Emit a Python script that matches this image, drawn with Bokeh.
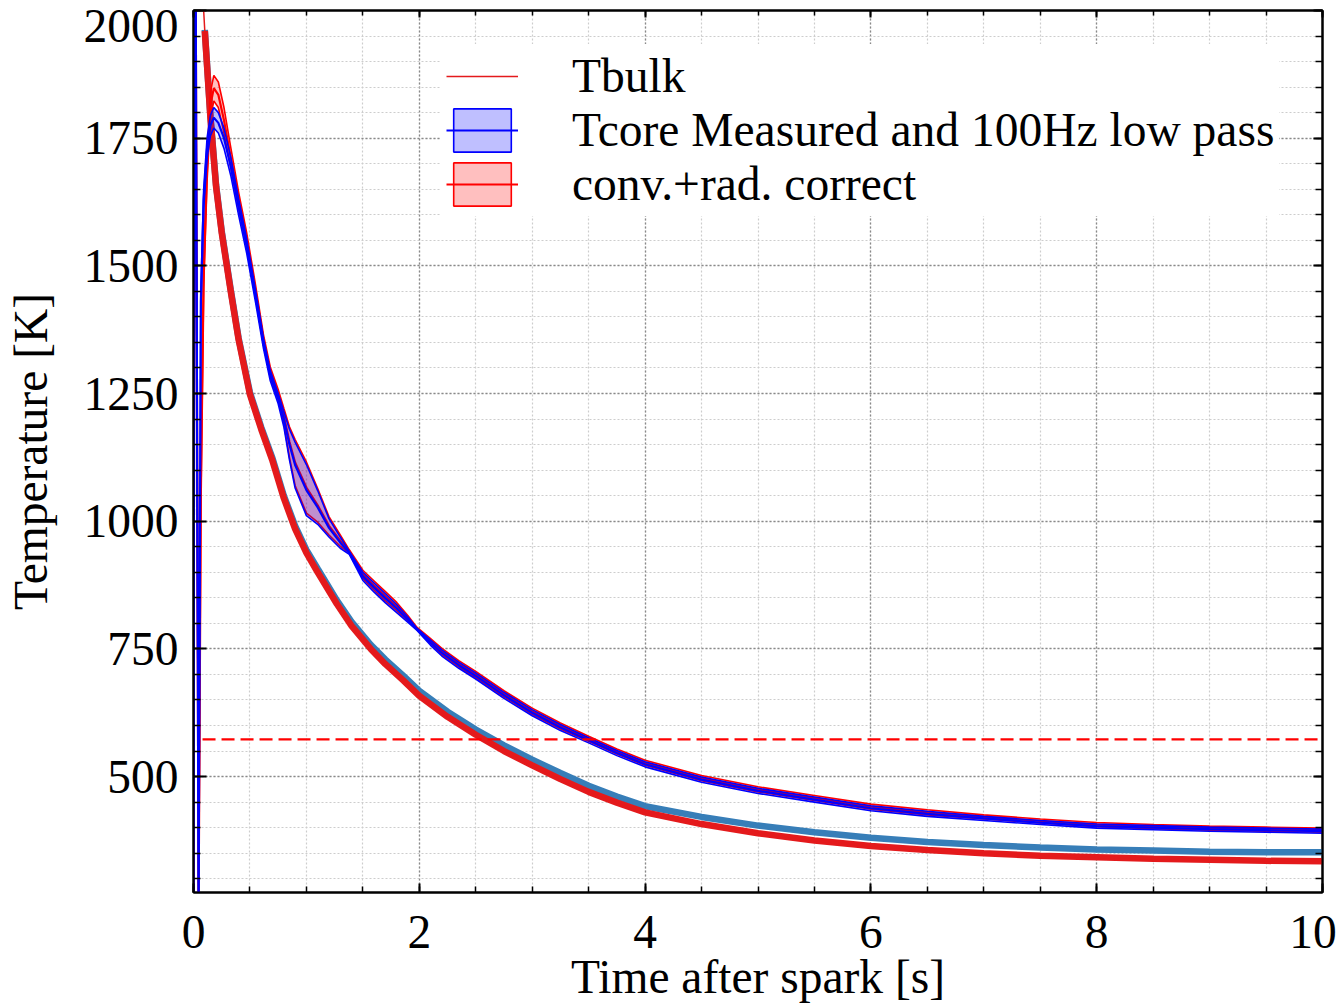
from bokeh.plotting import figure
from bokeh.models import (Range1d, LinearAxis, SingleIntervalTicker, FixedTicker, Grid,
                          Legend, LegendItem, CustomJSTickFormatter)
from bokeh.embed import file_html
from bokeh.resources import INLINE

# ---------------- data ----------------
X_MIN, X_MAX = 0.0, 10.0
Y_MIN, Y_MAX = 273.0, 2000.0
x_tick_values = [0, 2, 4, 6, 8, 10]
y_tick_values = [500, 750, 1000, 1250, 1500, 1750, 2000]

# Tcore (measured, 100 Hz low pass): centre and half width of the band
core_t = [0.0, 0.012, 0.045, 0.065, 0.09, 0.12, 0.15, 0.18, 0.22, 0.27, 0.33, 0.4, 0.47,
          0.55, 0.62, 0.68, 0.75, 0.8, 0.85, 0.9, 1.0, 1.1, 1.2, 1.3, 1.38, 1.5, 1.6,
          1.7, 1.8, 1.9, 1.98, 2.1, 2.2, 2.35, 2.5, 2.75, 3.0, 3.25, 3.5, 3.75, 4.0,
          4.5, 5.0, 5.5, 6.0, 6.5, 7.0, 7.5, 8.0, 8.5, 9.0, 9.5, 10.0]
tcore_mid = [260, 2600, 240, 1430, 1630, 1730, 1775, 1790, 1780, 1750, 1695, 1615, 1540,
             1440, 1348, 1285, 1240, 1200, 1150, 1110, 1061, 1027, 987, 958, 938, 892, 870,
             849, 829, 807, 788, 762, 742, 718, 697, 659, 625, 596, 571, 546, 524,
             494, 472, 455, 438, 427, 418, 410, 403, 400, 397, 395, 393]
tcore_hw = [20, 20, 20, 20, 20, 20, 20, 20, 20, 20, 18, 16, 14,
            12, 10, 10, 10, 15, 30, 45, 50, 33, 18, 11, 3, 8, 9,
            9, 8, 5, 2, 5, 6, 6, 6, 6, 6, 6, 5, 5, 5,
            5, 5, 5, 5, 5, 4, 4, 4, 4, 4, 4, 4]
# conv.+rad. corrected core temperature
conv_mid = [260, 2600, 240, 1050, 1480, 1690, 1815, 1848, 1835, 1785, 1712, 1628, 1552,
            1450, 1355, 1292, 1248, 1206, 1155, 1115, 1066, 1031, 991, 962, 941, 896, 874,
            853, 833, 810, 790, 765, 745, 721, 700, 662, 628, 599, 574, 549, 527,
            497, 475, 458, 441, 430, 421, 413, 406, 402, 399, 397, 395]
conv_hw = [25, 25, 25, 25, 25, 25, 25, 25, 25, 25, 20, 16, 14,
           12, 10, 10, 10, 15, 30, 45, 50, 33, 18, 11, 3, 8, 9,
           9, 8, 5, 2, 5, 6, 6, 6, 6, 6, 6, 5, 5, 5,
           5, 5, 5, 5, 5, 4, 4, 4, 4, 4, 4, 4]

# bulk temperature (red) and the second measured trace (steel blue)
tbulk_t = [0.0, 0.004, 0.09, 0.1, 0.15, 0.2, 0.25, 0.33, 0.4, 0.5, 0.6, 0.7, 0.8, 0.9,
           1.0, 1.1, 1.27, 1.4, 1.57, 1.7, 1.86, 2.0, 2.25, 2.5, 2.75, 3.0, 3.25, 3.5,
           3.75, 4.0, 4.5, 5.0, 5.5, 6.0, 6.5, 7.0, 7.5, 8.0, 8.5, 9.0, 9.5, 10.0]
tbulk = [280, 3000, 2000, 1960, 1790, 1655, 1565, 1450, 1355, 1248, 1180, 1118, 1045, 985,
         938, 900, 838, 795, 750, 720, 688, 658, 617, 582, 550, 522, 495, 470,
         449, 430, 407, 389, 375, 364, 356, 350, 345, 342, 339, 337, 335, 334]
steel_t = tbulk_t[3:]
steel = [1962, 1793, 1658, 1568, 1453, 1358, 1252, 1184, 1123, 1050, 991,
         944, 907, 845, 803, 758, 729, 697, 668, 627, 592, 561, 533, 507, 482,
         461, 442, 421, 404, 391, 380, 372, 366, 361, 357, 355, 353, 352, 352]

threshold_t = [0.08, 10.0]
threshold_T = 573

legend_labels = ["Tbulk", "Tcore Measured and 100Hz low pass", "conv.+rad. correct"]

FONT = "Liberation Serif"
FS = "47.5px"
W, H = 1337, 1005
B_LEFT, B_RIGHT, B_TOP, B_BOTTOM = 193, 15, 10, 113
FRAME_W = W - B_LEFT - B_RIGHT
FRAME_H = H - B_TOP - B_BOTTOM

# the labels of the two corner ticks sit nudged inwards, as in the reference
x_label_pos = [v - 9.5 * (X_MAX - X_MIN) / FRAME_W if v == X_MAX else v for v in x_tick_values]
y_label_pos = [v - 15.0 * (Y_MAX - Y_MIN) / FRAME_H if v == Y_MAX else v for v in y_tick_values]

# ---------------- figure ----------------
p = figure(width=W, height=H, output_backend="svg", toolbar_location=None,
           x_range=Range1d(X_MIN, X_MAX), y_range=Range1d(Y_MIN, Y_MAX),
           x_axis_type=None, y_axis_type=None,
           min_border_left=B_LEFT, min_border_right=B_RIGHT, min_border_top=B_TOP,
           min_border_bottom=B_BOTTOM)
p.background_fill_color = "white"
p.border_fill_color = "white"
p.outline_line_color = "black"
p.outline_line_width = 2

xticker = SingleIntervalTicker(interval=2, num_minor_ticks=4)
yticker = SingleIntervalTicker(interval=250, num_minor_ticks=5)

for dim, tk in ((0, xticker), (1, yticker)):
    g = Grid(dimension=dim, ticker=tk)
    g.grid_line_color = "#8a8a8a"
    g.grid_line_dash = "2 2"
    g.grid_line_width = 1.3
    g.minor_grid_line_color = "#cdcdcd"
    g.minor_grid_line_dash = "2 2"
    g.minor_grid_line_width = 1.2
    g.level = "underlay"
    p.add_layout(g)

# tick-only axes on all four sides
for side, tk, tin, mtin in (("below", xticker, 9, 6), ("left", yticker, 13, 7),
                            ("above", xticker, 7, 5), ("right", yticker, 9, 7)):
    ax = LinearAxis(ticker=tk)
    ax.major_label_text_font_size = "1px"
    ax.major_label_text_color = None
    ax.major_label_standoff = 0
    ax.axis_line_color = "black"
    ax.axis_line_width = 2
    ax.major_tick_in, ax.major_tick_out = tin, 0
    ax.minor_tick_in, ax.minor_tick_out = mtin, 0
    ax.major_tick_line_color = "black"
    ax.minor_tick_line_color = "black"
    ax.major_tick_line_width = 2
    ax.minor_tick_line_width = 1.5
    p.add_layout(ax, side)

# label axes, stacked just outside the tick axes
bx = LinearAxis(ticker=FixedTicker(ticks=x_label_pos, minor_ticks=[]),
                formatter=CustomJSTickFormatter(code="return String(Math.round(tick / 2) * 2);"),
                axis_label="Time after spark [s]")
ly = LinearAxis(ticker=FixedTicker(ticks=y_label_pos, minor_ticks=[]),
                formatter=CustomJSTickFormatter(code="return String(Math.round(tick / 250) * 250);"),
                axis_label="Temperature [K]")
for ax in (bx, ly):
    ax.axis_line_color = None
    ax.major_tick_in = ax.major_tick_out = 0
    ax.minor_tick_in = ax.minor_tick_out = 0
    ax.major_label_text_font = FONT
    ax.major_label_text_font_size = FS
    ax.major_label_text_color = "black"
    ax.axis_label_text_font = FONT
    ax.axis_label_text_font_size = FS
    ax.axis_label_text_font_style = "normal"
    ax.axis_label_text_color = "black"
bx.major_label_standoff = 23
bx.axis_label_standoff = 0
ly.major_label_standoff = 15
ly.axis_label_standoff = 24
p.add_layout(bx, "below")
p.add_layout(ly, "left")

# ---------------- glyphs ----------------
STEEL = "#377eb8"
SRED = "#e41a1c"
p.line(steel_t, steel, line_color=STEEL, line_width=6.5)
p.line(tbulk_t[3:], tbulk[3:], line_color=SRED, line_width=6.5)
r_tbulk = p.line(tbulk_t, tbulk, line_color=SRED, line_width=1.5)


def band(mid, hw, color):
    hi = [m + h for m, h in zip(mid, hw)]
    lo = [m - h for m, h in zip(mid, hw)]
    xs = list(core_t) + list(core_t[::-1])
    ys = hi + lo[::-1]
    r_patch = p.patch(xs, ys, fill_color=color, fill_alpha=0.25, line_color=color,
                      line_width=1.6)
    r_mid = p.line(core_t, mid, line_color=color, line_width=2.2)
    return r_patch, r_mid


r_conv_patch, r_conv_mid = band(conv_mid, conv_hw, "#ff0000")
r_core_patch, r_core_mid = band(tcore_mid, tcore_hw, "#0000ff")

p.line(threshold_t, [threshold_T] * len(threshold_t), line_color="#ff0000",
       line_width=2.2, line_dash="13 6")

legend = Legend(items=[
    LegendItem(label=legend_labels[0], renderers=[r_tbulk]),
    LegendItem(label=legend_labels[1], renderers=[r_core_patch, r_core_mid]),
    LegendItem(label=legend_labels[2], renderers=[r_conv_patch, r_conv_mid]),
], location=(248, 676))
legend.label_text_font = FONT
legend.label_text_font_size = FS
legend.label_text_color = "black"
legend.glyph_width = 72
legend.glyph_height = 54
legend.label_standoff = 54
legend.spacing = 0
legend.padding = 5
legend.margin = 0
legend.background_fill_color = "white"
legend.background_fill_alpha = 1.0
legend.border_line_alpha = 0
p.add_layout(legend)

open("out.html", "w").write(file_html(p, INLINE))
